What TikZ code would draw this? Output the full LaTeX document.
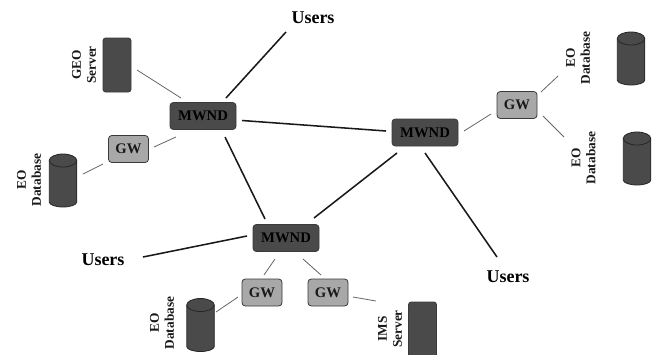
\documentclass[tikz,border=0pt]{standalone}
\usepackage{fontspec}
\setmainfont{Liberation Serif}
\usetikzlibrary{calc}
\def\px{0.75pt}
\definecolor{darkfill}{HTML}{4A4A4A}
\definecolor{gwfill}{HTML}{A8A8A8}
\definecolor{edgegray}{HTML}{3A3A3A}
\tikzset{
  mwnd/.style={draw=edgegray,line width=0.6pt,fill=darkfill,rounded corners=2.5pt,minimum width=66*\px,minimum height=27*\px,inner sep=0pt,font=\fontsize{11}{13}\selectfont\bfseries,text=black},
  gwbox/.style={draw=edgegray,line width=0.6pt,fill=gwfill,rounded corners=2.5pt,minimum width=40*\px,minimum height=27*\px,inner sep=0pt,font=\fontsize{11}{13}\selectfont\bfseries,text=black!90},
  serverbox/.style={draw=edgegray,line width=0.6pt,fill=darkfill,rounded corners=2pt,minimum width=28*\px,inner sep=0pt},
  dbframe/.style={minimum width=27.5*\px,minimum height=53*\px,inner sep=0pt,outer sep=0pt},
  dbbody/.style={draw=black!85,line width=0.6pt,fill=darkfill},
  userlabel/.style={inner sep=0pt,font=\fontsize{13.5}{15}\selectfont\bfseries},
  sidelabel/.style={rotate=90,align=center,inner sep=0pt,font=\fontsize{10}{11.25}\selectfont\bfseries,text=black!90},
  thickline/.style={draw=black!90,line width=1.15pt},
  thinline/.style={draw=black!60,line width=0.6pt}
}
\newcommand{\dbdraw}[1]{%
  \draw[dbbody] ($(#1.north west)+(0,6.5)$) arc[start angle=180,end angle=0,x radius=10.3125pt,y radius=4.875pt]
    -- ($(#1.south east)+(0,-5)$) arc[start angle=0,end angle=-180,x radius=10.3125pt,y radius=3.75pt] -- cycle;
  \draw[dbbody,fill=none] ($(#1.north west)+(0,6.5)$) arc[start angle=180,end angle=360,x radius=10.3125pt,y radius=4.875pt];
}
\begin{document}
\begin{tikzpicture}[x=0.75pt,y=-0.75pt]
\useasboundingbox (0,0) rectangle (652,354);
\clip (0,0) rectangle (652,354);
\node[mwnd] (m1) at (203,116) {MWND};
\node[mwnd] (m2) at (425,132.5) {MWND};
\node[mwnd] (m3) at (286,238) {MWND};
\node[gwbox] (g1) at (128.5,149) {GW};
\node[gwbox] (g2) at (517,105) {GW};
\node[gwbox] (g3) at (262,292.5) {GW};
\node[gwbox] (g4) at (328,292.5) {GW};
\node[serverbox,minimum height=54*\px] (geo) at (117,65) {};
\node[serverbox,minimum height=60*\px] (ims) at (422.5,332) {};
\node[dbframe] (c1) at (63,180.5) {};
\node[dbframe] (c2) at (631,58.5) {};
\node[dbframe] (c3) at (637,158.5) {};
\node[dbframe] (c4) at (200.5,325) {};
\dbdraw{c1}\dbdraw{c2}\dbdraw{c3}\dbdraw{c4}
\node[userlabel] (u1) at (313,18) {Users};
\node[userlabel] (u2) at (103,260) {Users};
\node[userlabel] (u3) at (508,277) {Users};
\node[sidelabel] (lgeo) at (84,65) {GEO\\Server};
\node[sidelabel] (le1) at (29,180) {EO\\Database};
\node[sidelabel] (le2) at (578,58) {EO\\Database};
\node[sidelabel] (le3) at (583.5,158) {EO\\Database};
\node[sidelabel] (le4) at (162,323) {EO\\Database};
\node[sidelabel] (lims) at (390,329) {IMS\\Server};
\draw[thickline] ($(m1)+(23,-18)$) -- ($(u1)+(-27,14)$);
\draw[thickline] ($(m1)+(39,4.5)$) -- ($(m2)+(-39,-1.5)$);
\draw[thickline] ($(m1)+(22,21)$) -- ($(m3)+(-21,-19)$);
\draw[thickline] ($(m2)+(-28,20.5)$) -- ($(m3)+(28,-20)$);
\draw[thickline] ($(m2)+(0,20.5)$) -- ($(u3)+(-11,-20)$);
\draw[thickline] ($(m3)+(-39,-2)$) -- ($(u2)+(40,-3)$);
\draw[thinline] ($(geo)+(20,5)$) -- ($(m1)+(-22,-18)$);
\draw[thinline] ($(m1)+(-27,21)$) -- ($(g1)+(25.5,-2)$);
\draw[thinline] ($(g1)+(-25.5,15)$) -- ($(c1)+(20,-6.5)$);
\draw[thinline] ($(m2)+(39,-1.5)$) -- ($(g2)+(-26,9)$);
\draw[thinline] ($(g2)+(24,-13)$) -- ($(le2)+(-20,18)$);
\draw[thinline] ($(g2)+(26,11)$) -- ($(le3)+(-19.5,-21)$);
\draw[thinline] ($(m3)+(-11,21)$) -- ($(g3)+(2,-17.5)$);
\draw[thinline] ($(m3)+(17,21)$) -- ($(g4)+(-7,-17.5)$);
\draw[thinline] ($(g3)+(-24,4.5)$) -- ($(c4)+(15.5,-13)$);
\draw[thinline] ($(g4)+(25,4.5)$) -- ($(ims)+(-46.5,-31)$);
\end{tikzpicture}
\end{document}
